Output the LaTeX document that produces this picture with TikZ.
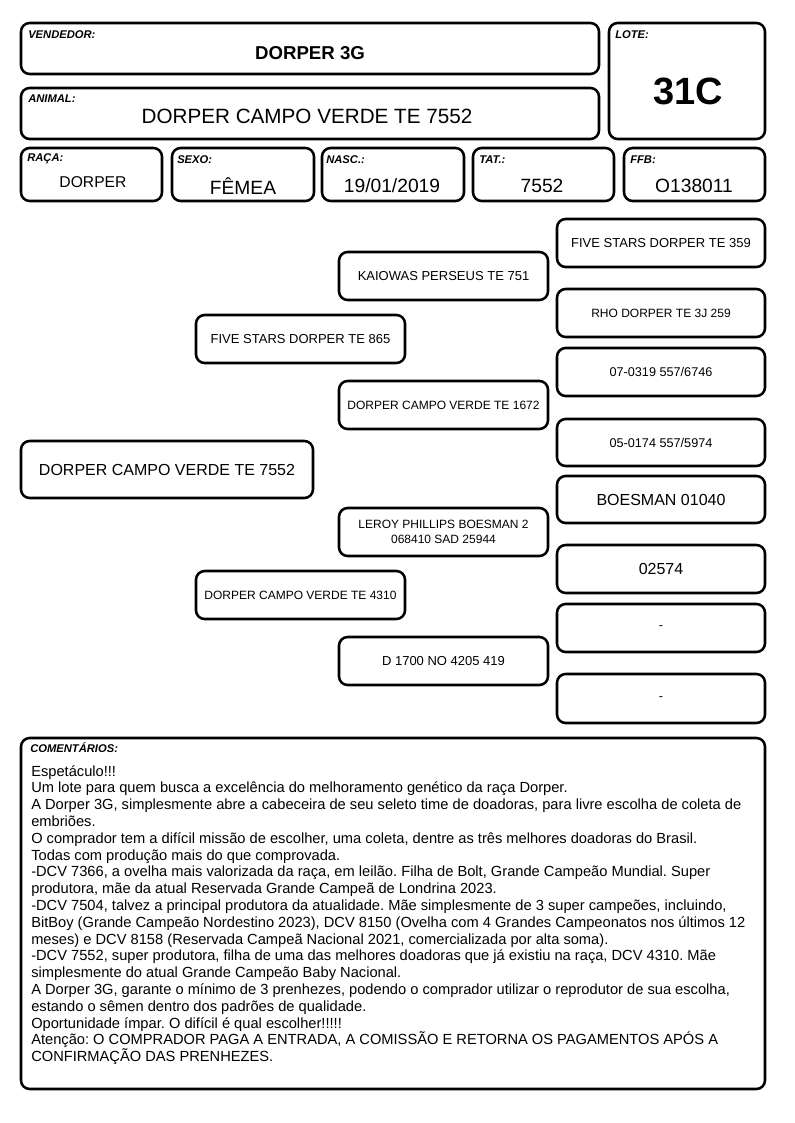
\documentclass[tikz,border=0pt]{standalone}
\usepackage{fontspec}
\setmainfont{Liberation Sans}
\newcommand\pbox[7]{\node[box, minimum width={(#4-#2)*0.75pt}, minimum height={(#5-#3)*0.75pt}, font=#6] (#1) at ({(#2+#4)/2},{(#3+#5)/2}) {#7};}
\newcommand\fsz[1]{\fontsize{#1}{#1}\selectfont}
\tikzset{
  box/.style={draw, line width=1.9pt, rounded corners=6.5pt, inner sep=0pt, align=center},
  lab/.style={anchor=west, inner sep=0pt, font=\bfseries\itshape\fontsize{8.4}{9}\selectfont},
  val/.style={inner sep=0pt, align=center}
}
\begin{document}
\frenchspacing
\begin{tikzpicture}[x=0.75pt,y=-0.75pt]
\fill[white] (0,0) rectangle (794,1123);
\useasboundingbox (0,0) rectangle (794,1123);
% header
\pbox{vend}{21}{23}{599}{74}{\fsz{10pt}}{}
\node[lab] (vendl) at (28,35) {VENDEDOR:};
\node[val, font=\bfseries\fsz{14pt}] (vendv) at (310,53) {DORPER 3G};
\pbox{anim}{21}{88}{599}{139}{\fsz{10pt}}{}
\node[lab] (animl) at (28,99) {ANIMAL:};
\node[val, font=\fsz{15.5pt}] (animv) at (307,116) {DORPER CAMPO VERDE TE 7552};
\pbox{lote}{609}{23}{765}{139}{\fsz{10pt}}{}
\node[lab] (lotel) at (615,35) {LOTE:};
\node[val, font=\bfseries\fsz{28.5pt}] (lotev) at (688,91) {31C};
% row
\pbox{raca}{21}{148}{162}{201}{\fsz{10pt}}{}
\node[lab] (racal) at (27,159) {RAÇA:};
\node[val, font=\fsz{11.75pt}] (racav) at (93,182) {DORPER};
\pbox{sexo}{172}{148}{314}{201}{\fsz{10pt}}{}
\node[lab] (sexol) at (177,160) {SEXO:};
\node[val, font=\fsz{14.4pt}] (sexov) at (243,186) {FÊMEA};
\pbox{nasc}{322}{148}{464}{201}{\fsz{10pt}}{}
\node[lab] (nascl) at (326,160) {NASC.:};
\node[val, font=\fsz{14.4pt}] (nascv) at (392,186) {19/01/2019};
\pbox{tat}{473}{148}{614}{201}{\fsz{10pt}}{}
\node[lab] (tatl) at (479,160) {TAT.:};
\node[val, font=\fsz{14.4pt}] (tatv) at (542,186) {7552};
\pbox{ffb}{624}{148}{765}{201}{\fsz{10pt}}{}
\node[lab] (ffbl) at (630,160) {FFB:};
\node[val, font=\fsz{14.4pt}] (ffbv) at (694,186) {O138011};
% pedigree
\pbox{p1}{21}{441}{313}{498}{\fsz{12pt}}{DORPER CAMPO VERDE TE 7552}
\pbox{p2a}{196}{315}{405}{363}{\fsz{9.75pt}}{FIVE STARS DORPER TE 865}
\pbox{p2b}{196}{571}{405}{619}{\fsz{9pt}}{DORPER CAMPO VERDE TE 4310}
\pbox{p3a}{339}{252}{548}{300}{\fsz{9.75pt}}{KAIOWAS PERSEUS TE 751}
\pbox{p3b}{339}{381}{548}{429}{\fsz{9pt}}{DORPER CAMPO VERDE TE 1672}
\pbox{p3c}{339}{508}{548}{556}{\fontsize{9pt}{11.25pt}\selectfont}{LEROY PHILLIPS BOESMAN 2\\068410 SAD 25944}
\pbox{p3d}{339}{637}{548}{685}{\fsz{9.75pt}}{D 1700 NO 4205 419}
\pbox{p4a}{557}{219}{765}{267}{\fsz{9.75pt}}{FIVE STARS DORPER TE 359}
\pbox{p4b}{557}{289}{765}{337}{\fsz{9pt}}{RHO DORPER TE 3J 259}
\pbox{p4c}{557}{348}{765}{396}{\fsz{9.5pt}}{07-0319 557/6746}
\pbox{p4d}{557}{419}{765}{466}{\fsz{9.5pt}}{05-0174 557/5974}
\pbox{p4e}{557}{476}{765}{523}{\fsz{12pt}}{BOESMAN 01040}
\pbox{p4f}{557}{545}{765}{593}{\fsz{12pt}}{02574}
\pbox{p4g}{557}{604}{765}{652}{\fsz{9.5pt}}{-}
\pbox{p4h}{557}{674}{765}{723}{\fsz{9.5pt}}{-}
% comments
\pbox{com}{21}{738}{765}{1089}{\fsz{10pt}}{}
\node[lab] (coml) at (30,748) {COMENTÁRIOS:};
\node[anchor=north west, inner sep=0pt, align=left, font=\fontsize{11pt}{12.6pt}\selectfont] (comt) at (31,765) {Espetáculo!!!\\
Um lote para quem busca a excelência do melhoramento genético da raça Dorper.\\
A Dorper 3G, simplesmente abre a cabeceira de seu seleto time de doadoras, para livre escolha de coleta de\\
embriões.\\
O comprador tem a difícil missão de escolher, uma coleta, dentre as três melhores doadoras do Brasil.\\
Todas com produção mais do que comprovada.\\
-DCV 7366, a ovelha mais valorizada da raça, em leilão. Filha de Bolt, Grande Campeão Mundial. Super\\
produtora, mãe da atual Reservada Grande Campeã de Londrina 2023.\\
-DCV 7504, talvez a principal produtora da atualidade. Mãe simplesmente de 3 super campeões, incluindo,\\
BitBoy (Grande Campeão Nordestino 2023), DCV 8150 (Ovelha com 4 Grandes Campeonatos nos últimos 12\\
meses) e DCV 8158 (Reservada Campeã Nacional 2021, comercializada por alta soma).\\
-DCV 7552, super produtora, filha de uma das melhores doadoras que já existiu na raça, DCV 4310. Mãe\\
simplesmente do atual Grande Campeão Baby Nacional.\\
A Dorper 3G, garante o mínimo de 3 prenhezes, podendo o comprador utilizar o reprodutor de sua escolha,\\
estando o sêmen dentro dos padrões de qualidade.\\
Oportunidade ímpar. O difícil é qual escolher!!!!!\\
Atenção: O COMPRADOR PAGA A ENTRADA, A COMISSÃO E RETORNA OS PAGAMENTOS APÓS A\\
CONFIRMAÇÃO DAS PRENHEZES.};
\end{tikzpicture}
\end{document}
